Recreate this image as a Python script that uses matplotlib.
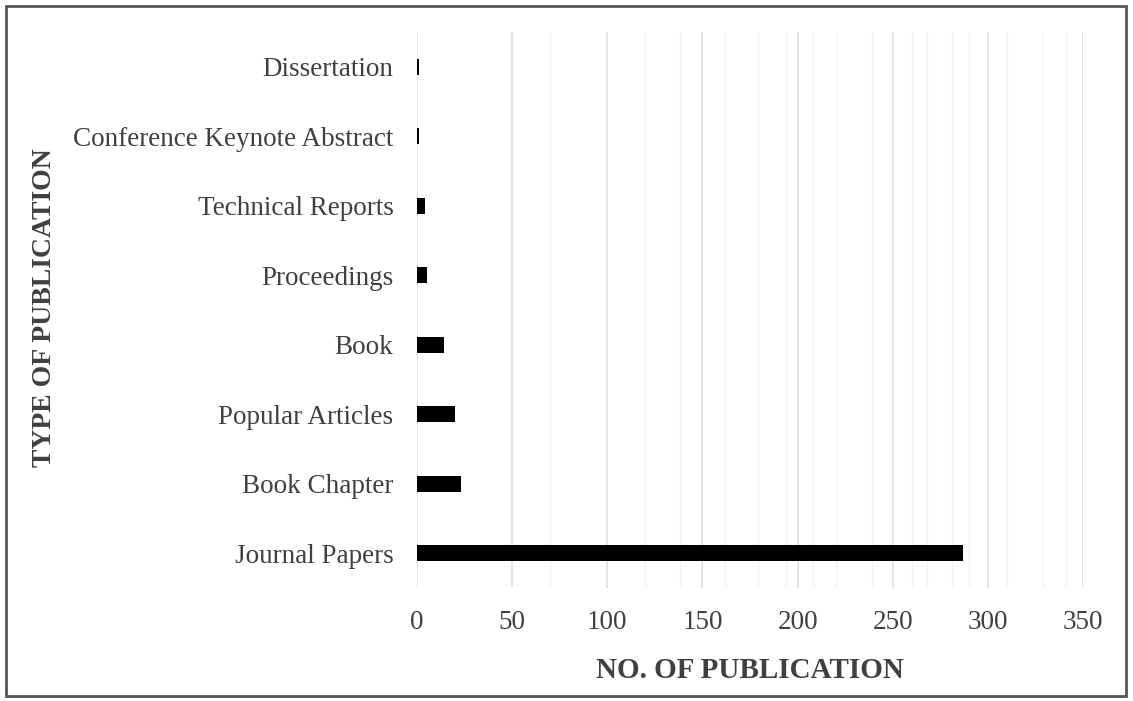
import matplotlib.pyplot as plt
from matplotlib.patches import Rectangle

plt.rcParams['font.family'] = ['Liberation Serif', 'DejaVu Serif']

categories = ['Journal Papers', 'Book Chapter', 'Popular Articles', 'Book',
              'Proceedings', 'Technical Reports', 'Conference Keynote Abstract',
              'Dissertation']
counts = [287, 23, 20, 14, 5, 4, 1, 1]
x_ticks = [0, 50, 100, 150, 200, 250, 300, 350]
# faint extra lines seen in the scanned chart background
faint_lines = [70, 120, 138, 162, 179, 194, 208, 220, 239, 260, 268, 281, 290, 310, 329, 341]

text_color = '#404040'

fig = plt.figure(figsize=(11.33, 7.01), dpi=100)
ax = fig.add_axes([417 / 1133, 1 - 588 / 701, 666 / 1133, 556 / 701])

ax.barh(range(len(categories)), counts, height=0.23, color='black', zorder=3)

for v in faint_lines:
    ax.axvline(v, color='#f2f2f2', lw=1, zorder=1)
for v in x_ticks:
    ax.axvline(v, color='#dcdcdc', lw=1.1, zorder=2)

ax.set_xlim(0, 350)
ax.set_ylim(-0.5, len(categories) - 0.5)
ax.set_xticks(x_ticks)
ax.set_yticks(range(len(categories)))
ax.set_yticklabels(categories)
ax.tick_params(axis='both', length=0, labelsize=19.5, colors=text_color)
ax.tick_params(axis='y', pad=17)
ax.tick_params(axis='x', pad=16)
for s in ax.spines.values():
    s.set_visible(False)

ax.set_xlabel('NO. OF PUBLICATION', fontsize=21, fontweight='bold',
              color=text_color, labelpad=16)
fig.text(45 / 1133, 1 - 308 / 701, 'TYPE OF PUBLICATION', rotation=90,
         fontsize=20, fontweight='bold', color=text_color,
         ha='center', va='center')

# outer border of the figure
fig.patches.append(Rectangle((6 / 1133, 5 / 701), 1120 / 1133, 690 / 701,
                             transform=fig.transFigure, fill=False,
                             edgecolor='#555555', lw=2))

fig.savefig('out.png', dpi=100)
